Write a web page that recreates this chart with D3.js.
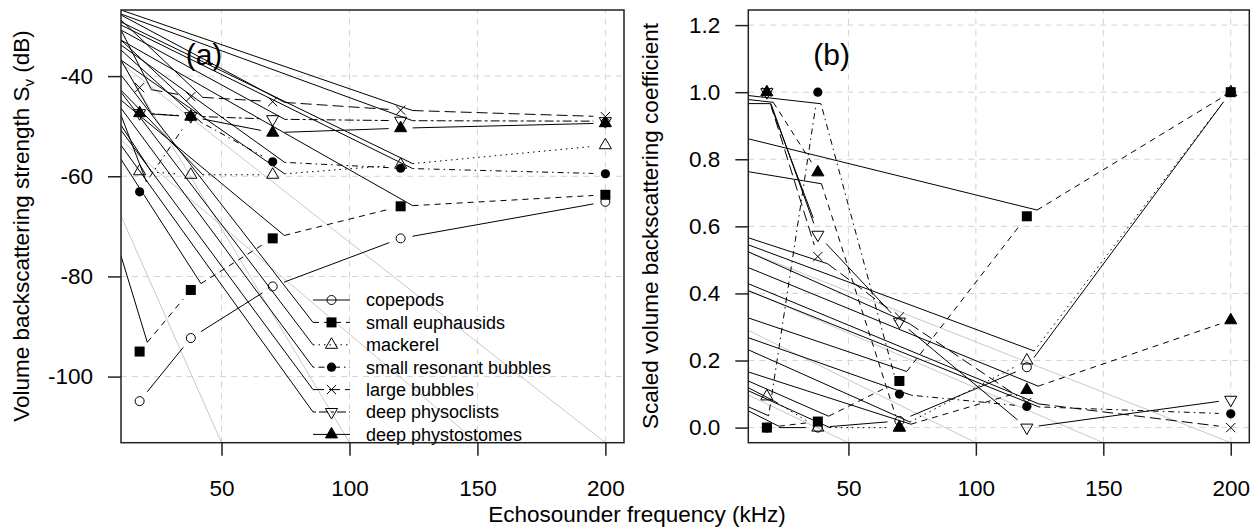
<!DOCTYPE html>
<html>
<head>
<meta charset="utf-8">
<script src="https://cdn.jsdelivr.net/npm/d3@7"></script>
<style>
  body { margin: 0; background: #fff; }
  svg text { font-family: "Liberation Sans", Arial, sans-serif; fill: #000; }
</style>
</head>
<body>
<svg id="chart" width="1260" height="529"></svg>
<script>
(function(d3) {
  "use strict";

  var freqs = [18, 38, 70, 120, 200];
  var xTicks = [50, 100, 150, 200];
  var yTicksA = [-100, -80, -60, -40];
  var yTicksB = [0, 0.2, 0.4, 0.6, 0.8, 1.0, 1.2];

  var species = ["copepods", "small euphausids", "mackerel", "small resonant bubbles",
                 "large bubbles", "deep physoclists", "deep phystostomes"];
  var pchs = ["circle", "square", "triangle", "dot", "cross", "down", "filltri"];
  var ltyA = ["solid", "dashed", "dotted", "dotdash", "longdash", "twodash", "solid"];
  var ltyB = ["solid", "dashed", "dotted", "dotdash", "longdash", "solid", "dashed"];

  // (a) volume backscattering strength, dB
  var copepodsDb     = [-104.9, -92.3, -82.0, -72.4, -65.1];
  var euphausidsDb   = [-95.0, -82.7, -72.4, -66.0, -63.7];
  var mackerelDb     = [-59.0, -59.7, -59.7, -57.7, -53.8];
  var resonantDb     = [-63.1, -48.1, -57.1, -58.4, -59.5];
  var largeBubblesDb = [-42.3, -44.1, -45.1, -46.8, -48.1];
  var physoclistsDb  = [-47.4, -48.0, -48.6, -48.9, -49.0];
  var physostomesDb  = [-47.4, -48.1, -51.3, -50.4, -49.4];

  // (b) scaled volume backscattering coefficient
  var copepodsSc     = [0, 0, 0.02, 0.18, 1.0];
  var euphausidsSc   = [0, 0.018, 0.139, 0.63, 1.0];
  var mackerelSc     = [0.093, 0, 0, 0.2, 1.0];
  var resonantSc     = [0, 1.0, 0.10, 0.063, 0.041];
  var largeBubblesSc = [1.0, 0.51, 0.33, 0.075, 0];
  var physoclistsSc  = [1.0, 0.575, 0.316, 0, 0.083];
  var physostomesSc  = [1.0, 0.761, 0, 0.112, 0.32];

  // stray solid lines of the original export: [series, segment, y at left edge]
  var straysA = [
    [1, 0, -75.9], [1, 1, -56.6], [1, 2, -44.8], [1, 3, -32.8],
    [2, 0, -49.8], [2, 1, -42.8], [2, 2, -36.8], [2, 3, -29.2],
    [3, 0, -47.8], [3, 1, -34.8], [3, 2, -33.8], [3, 3, -29.8],
    [4, 0, -30.8], [4, 1, -28.8], [4, 2, -27.8], [4, 3, -26.8],
    [5, 0, -36.8], [5, 1, -32.8], [5, 2, -30.8], [5, 3, -27.6]
  ];
  var legendStraysA = [null, -39.8, -43.2, -46.4, -50.8, -53.8, null];
  var gridStraysA = [[50, -67.9], [100, -36.8], [150, -52.8], [200, -37.4]];

  var straysB = [
    [1, 0, 0.05], [1, 1, 0.139], [1, 2, 0.327], [1, 3, 0.861],
    [2, 0, 0.119], [2, 1, 0.11], [2, 2, 0.232], [2, 3, 0.545],
    [3, 0, 0.062], [3, 1, 0.99], [3, 2, 0.268], [3, 3, 0.408],
    [4, 0, 0.966], [4, 1, 0.566], [4, 2, 0.524], [4, 3, 0.429],
    [6, 0, 0.978], [6, 1, 0.763], [6, 2, 0.166], [6, 3, 0.477]
  ];
  var gridStraysB = [[50, 0.097], [100, 0.29], [150, 0.41], [200, 0.524]];
  var extraB = [[19.9, 0.953, 36.2, 0.625]];

  var dash = {
    solid: null, dashed: "6,5", dotted: "1.5,4", dotdash: "1.5,4,6,4",
    longdash: "11,5", twodash: "3,3,9,3"
  };

  var xDomain = [10.72, 207.28];
  var GAP = 12;
  var svg = d3.select("#chart");
  svg.append("rect").attr("width", 1260).attr("height", 529).attr("fill", "#fff");

  drawPanel({
    id: "a", left: 121, right: 624, top: 10, bottom: 442.7,
    yDomain: [-113.2, -26.8], yTicks: yTicksA, yFormat: d3.format("d"),
    values: [copepodsDb, euphausidsDb, mackerelDb, resonantDb, largeBubblesDb, physoclistsDb, physostomesDb],
    lty: ltyA, strays: straysA, gridStrays: gridStraysA, extra: [],
    label: "(a)", labelX: 204, legend: true
  });
  drawPanel({
    id: "b", left: 748.3, right: 1249.3, top: 10, bottom: 442.7,
    yDomain: [-0.045, 1.245], yTicks: yTicksB, yFormat: d3.format(".1f"),
    values: [copepodsSc, euphausidsSc, mackerelSc, resonantSc, largeBubblesSc, physoclistsSc, physostomesSc],
    lty: ltyB, strays: straysB, gridStrays: gridStraysB, extra: extraB,
    label: "(b)", labelX: 831.7, legend: false
  });

  // axis titles
  var yt = svg.append("text")
    .attr("transform", "translate(29,226) rotate(-90)")
    .attr("text-anchor", "middle")
    .style("font-size", "22.5px")
    .text("Volume backscattering strength S");
  yt.append("tspan").attr("dy", 5).style("font-size", "15px").text("v");
  yt.append("tspan").attr("dy", -5).text(" (dB)");

  svg.append("text")
    .attr("transform", "translate(658,226) rotate(-90)")
    .attr("text-anchor", "middle")
    .style("font-size", "22.5px")
    .text("Scaled volume backscattering coefficient");

  svg.append("text")
    .attr("x", 637).attr("y", 522)
    .attr("text-anchor", "middle")
    .style("font-size", "22.5px")
    .text("Echosounder frequency (kHz)");

  function segments(vals, x, y) {
    var pts = freqs.map(function(f, i) { return [x(f), y(vals[i])]; });
    var out = [];
    for (var i = 0; i < pts.length - 1; i++) {
      var a = pts[i], b = pts[i + 1];
      var dx = b[0] - a[0], dy = b[1] - a[1];
      var len = Math.sqrt(dx * dx + dy * dy);
      var ux = dx / len, uy = dy / len;
      out.push({
        x1: a[0] + ux * GAP, y1: a[1] + uy * GAP,
        x2: b[0] - ux * GAP, y2: b[1] - uy * GAP,
        ok: len > 2 * GAP
      });
    }
    return out;
  }

  function mark(sel, type, cx, cy) {
    var r = 7, h = r * Math.sqrt(3) / 2;
    if (type === "circle") {
      sel.append("circle").attr("cx", cx).attr("cy", cy).attr("r", 4.5)
        .attr("fill", "none").attr("stroke", "#000").attr("stroke-width", 1);
    } else if (type === "dot") {
      sel.append("circle").attr("cx", cx).attr("cy", cy).attr("r", 4.6).attr("fill", "#000");
    } else if (type === "square") {
      sel.append("rect").attr("x", cx - 5).attr("y", cy - 5).attr("width", 10).attr("height", 10)
        .attr("fill", "#000");
    } else if (type === "cross") {
      sel.append("path")
        .attr("d", "M" + (cx - 4.6) + "," + (cy - 4.6) + "L" + (cx + 4.6) + "," + (cy + 4.6) +
                   "M" + (cx - 4.6) + "," + (cy + 4.6) + "L" + (cx + 4.6) + "," + (cy - 4.6))
        .attr("stroke", "#000").attr("stroke-width", 1);
    } else {
      var up = type !== "down";
      var s = up ? 1 : -1;
      sel.append("path")
        .attr("d", "M" + cx + "," + (cy - s * r) +
                   "L" + (cx + h) + "," + (cy + s * r / 2) +
                   "L" + (cx - h) + "," + (cy + s * r / 2) + "Z")
        .attr("fill", type === "filltri" ? "#000" : "none")
        .attr("stroke", "#000").attr("stroke-width", 1);
    }
  }

  function drawPanel(p) {
    var x = d3.scaleLinear().domain(xDomain).range([p.left, p.right]);
    var y = d3.scaleLinear().domain(p.yDomain).range([p.bottom, p.top]);
    var g = svg.append("g");

    svg.append("clipPath").attr("id", "clip" + p.id)
      .append("rect")
      .attr("x", p.left).attr("y", p.top)
      .attr("width", p.right - p.left).attr("height", p.bottom - p.top);

    var inner = g.append("g").attr("clip-path", "url(#clip" + p.id + ")");

    // grid
    inner.selectAll(".gx").data(xTicks).enter().append("line")
      .attr("x1", x).attr("x2", x).attr("y1", p.bottom).attr("y2", p.top)
      .attr("stroke", "#d3d3d3").attr("stroke-dasharray", "6,5");
    inner.selectAll(".gy").data(p.yTicks).enter().append("line")
      .attr("y1", y).attr("y2", y).attr("x1", p.left).attr("x2", p.right)
      .attr("stroke", "#d3d3d3").attr("stroke-dasharray", "6,5");

    // grey strays toward grid line starts
    inner.selectAll(".gs").data(p.gridStrays).enter().append("line")
      .attr("x1", x(xDomain[0])).attr("y1", function(d) { return y(d[1]); })
      .attr("x2", function(d) { return x(d[0]); }).attr("y2", p.bottom)
      .attr("stroke", "#c8c8c8").attr("stroke-width", 1);

    var segs = p.values.map(function(v) { return segments(v, x, y); });

    // series lines
    segs.forEach(function(ss, i) {
      inner.selectAll(null).data(ss.filter(function(s) { return s.ok; })).enter().append("line")
        .attr("x1", function(s) { return s.x1; }).attr("y1", function(s) { return s.y1; })
        .attr("x2", function(s) { return s.x2; }).attr("y2", function(s) { return s.y2; })
        .attr("stroke", "#000").attr("stroke-width", 1)
        .attr("stroke-dasharray", dash[p.lty[i]]);
    });

    // black strays toward dashed segment starts
    inner.selectAll(".bs").data(p.strays).enter().append("line")
      .attr("x1", x(xDomain[0])).attr("y1", function(d) { return y(d[2]); })
      .attr("x2", function(d) { return segs[d[0]][d[1]].x1; })
      .attr("y2", function(d) { return segs[d[0]][d[1]].y1; })
      .attr("stroke", "#000").attr("stroke-width", 1);

    inner.selectAll(".ex").data(p.extra).enter().append("line")
      .attr("x1", function(d) { return x(d[0]); }).attr("y1", function(d) { return y(d[1]); })
      .attr("x2", function(d) { return x(d[2]); }).attr("y2", function(d) { return y(d[3]); })
      .attr("stroke", "#000").attr("stroke-width", 1);

    // legend
    if (p.legend) {
      var lx0 = 313, lx1 = 350, lxs = 331.5, ltx = 366, ly0 = 300, lstep = 22.4;
      species.forEach(function(name, i) {
        var ly = ly0 + i * lstep;
        inner.append("line")
          .attr("x1", lx0).attr("x2", lx1).attr("y1", ly).attr("y2", ly)
          .attr("stroke", "#000").attr("stroke-dasharray", dash[p.lty[i]]);
        if (legendStraysA[i] !== null) {
          inner.append("line")
            .attr("x1", x(xDomain[0])).attr("y1", y(legendStraysA[i]))
            .attr("x2", lx0).attr("y2", ly)
            .attr("stroke", "#000").attr("stroke-width", 1);
        }
        mark(g, pchs[i], lxs, ly);
        g.append("text").attr("x", ltx).attr("y", ly).attr("dy", "0.36em")
          .style("font-size", "18px").text(name);
      });
    }

    // points
    p.values.forEach(function(v, i) {
      v.forEach(function(val, j) { mark(g, pchs[i], x(freqs[j]), y(val)); });
    });

    // box
    g.append("rect")
      .attr("x", p.left).attr("y", p.top)
      .attr("width", p.right - p.left).attr("height", p.bottom - p.top)
      .attr("fill", "none").attr("stroke", "#222").attr("stroke-width", 1.5);

    // axes
    var ay = g.append("g").attr("transform", "translate(" + p.left + ",0)")
      .call(d3.axisLeft(y).tickValues(p.yTicks).tickSize(13).tickPadding(15).tickFormat(p.yFormat));
    var ax = g.append("g").attr("transform", "translate(0," + p.bottom + ")")
      .call(d3.axisBottom(x).tickValues(xTicks).tickSize(13).tickPadding(24).tickFormat(d3.format("d")));
    [ay, ax].forEach(function(a) {
      a.select(".domain").remove();
      a.selectAll("line").attr("stroke", "#222").attr("stroke-width", 1.5);
      a.selectAll("text").style("font-size", "22.5px")
        .style("font-family", "'Liberation Sans', Arial, sans-serif").attr("fill", "#000");
    });
    ay.selectAll("text").text(function(d) { return p.yFormat(d).replace("\u2212", "-"); });

    g.append("text")
      .attr("x", p.labelX).attr("y", 65.4)
      .attr("text-anchor", "middle")
      .style("font-size", "30px")
      .text(p.label);
  }

})(d3);
</script>
</body>
</html>
